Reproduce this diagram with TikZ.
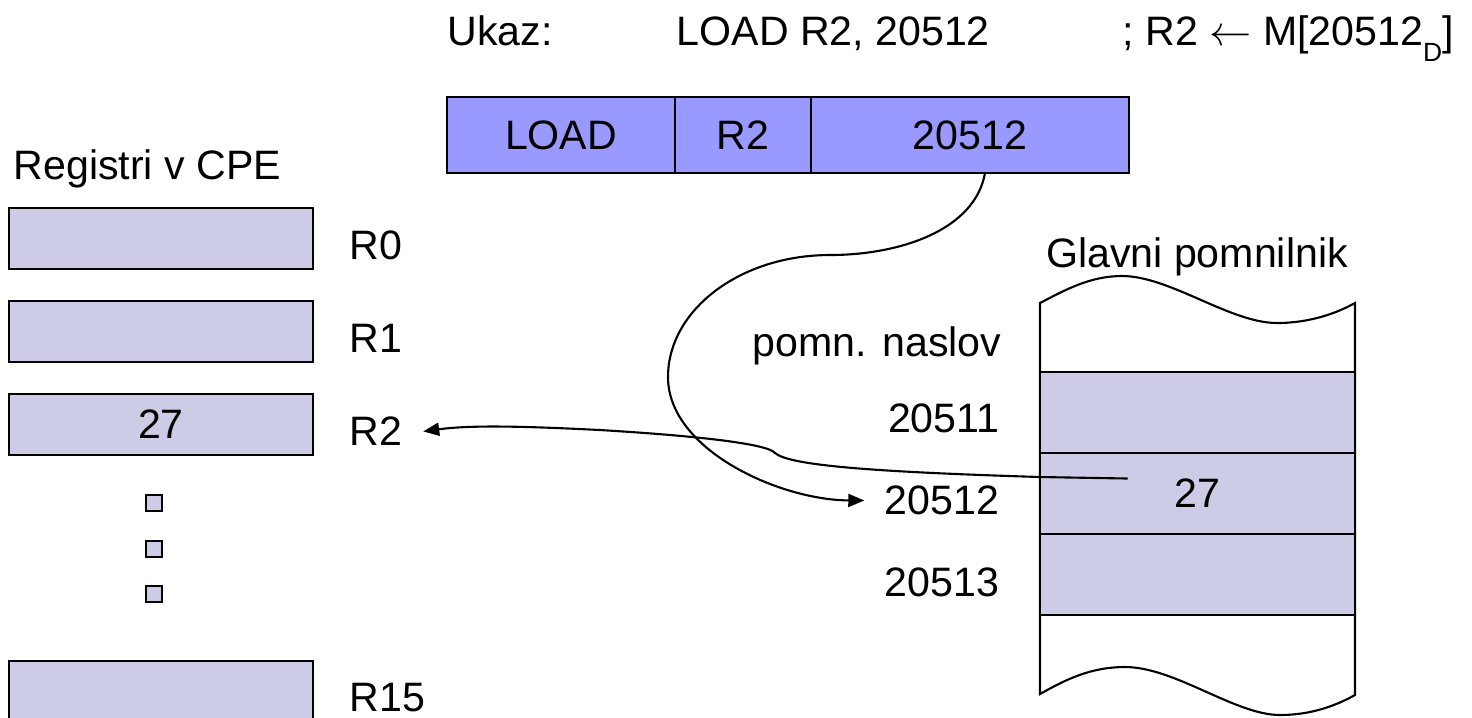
\documentclass[tikz,border=0pt]{standalone}
\usepackage{fontspec}
\setmainfont{Liberation Sans}
\usetikzlibrary{positioning, arrows.meta}

\definecolor{instrfill}{RGB}{153,153,255}
\definecolor{regfill}{RGB}{204,204,230}

\begin{document}
\begin{tikzpicture}[
  x=0.1mm, y=-0.1mm,
  font=\fontsize{11.7}{14}\selectfont,
  node distance=2.95mm and 3.5mm,
  field/.style={draw, fill=instrfill, line width=0.7pt, minimum height=7.6mm, inner sep=0pt, outer sep=0pt},
  reg/.style={draw, fill=regfill, line width=0.7pt, minimum width=30.4mm, minimum height=6.1mm, inner sep=0pt},
  cell/.style={draw, fill=regfill, line width=0.6pt, minimum width=31.5mm, minimum height=8.1mm, inner sep=0pt, outer sep=0pt},
  regdot/.style={draw, fill=regfill, line width=0.6pt, minimum size=1.6mm, inner sep=0pt},
  lbl/.style={inner sep=0pt},
  link/.style={line width=0.6pt, -{Triangle[length=1.6mm, width=1.3mm]}}
]
\useasboundingbox (0,0) rectangle (1472,717);

% --- Ukaz ---
\node[lbl, anchor=base west] (ukaz) at (447,45) {Ukaz:};
\node[lbl, anchor=base west] (instr) at (676,45) {LOAD R2, 20512};
\node[lbl, anchor=base west] (comment) at (1122,45)
  {; R2 $\leftarrow$ M[20512\raisebox{-1.6mm}{\fontsize{7.5}{8}\selectfont D}]};

% --- Polja ukaza ---
\node[field, minimum width=22.8mm] (fOp) at (561,135) {LOAD};
\node[field, minimum width=13.6mm, right=0pt of fOp] (fReg) {R2};
\node[field, minimum width=31.8mm, right=0pt of fReg] (fAddr) {20512};

% --- Registri ---
\node[lbl, anchor=base west] (regs) at (13,179) {Registri v CPE};
\node[reg] (r0) at (161,238.5) {};
\node[reg, below=of r0] (r1) {};
\node[reg, below=of r1] (r2) {27};
\node[reg] (r15) at (161,691.5) {};

\node[lbl, right=of r0, yshift=-0.7mm] (lR0) {R0};
\node[lbl, right=of r1, yshift=-0.7mm] (lR1) {R1};
\node[lbl, right=of r2, yshift=-0.7mm] (lR2) {R2};
\node[lbl, right=of r15, yshift=-0.6mm] (lR15) {R15};

\foreach \y [count=\i] in {503,549,594}
  \node[regdot] (dot\i) at (154,\y) {};

% --- Glavni pomnilnik ---
\node[lbl] (glavni) at (1197,257) {Glavni pomnilnik};
\draw[line width=0.6pt] (1040,303) -- (1040,694)
  .. controls (1065,680) and (1090,667) .. (1125,667)
  .. controls (1175,667) and (1235,715) .. (1280,715)
  .. controls (1312,715) and (1337,705) .. (1355,695) -- (1355,303)
  .. controls (1337,313) and (1310,323) .. (1277,323)
  .. controls (1230,323) and (1170,276) .. (1122,276)
  .. controls (1090,276) and (1065,290) .. cycle;

\node[cell] (m1) at (1197.5,412.5) {};
\node[cell, below=0pt of m1] (m2) {27};
\node[cell, below=0pt of m2] (m3) {};

\node[lbl, anchor=east] (naslov) at (1002,346) {pomn. naslov};
\node[lbl, left=4mm of m1, yshift=-0.6mm] (a20511) {20511};
\node[lbl, left=4mm of m2, yshift=-0.7mm] (a20512) {20512};
\node[lbl, left=4mm of m3, yshift=-0.8mm] (a20513) {20513};

% --- Povezave ---
\coordinate (mval) at ([xshift=-7mm, yshift=1.5mm]m2.center);
\draw[link] ([xshift=1.5mm]fAddr.south)
  .. controls (975,230) and (900,255) .. (830,255)
  .. controls (740,255) and (668,310) .. (668,377)
  .. controls (668,450) and (780,500) .. ([xshift=-2mm]a20512.west);
\draw[link] (mval) -- (1040,477)
  .. controls (880,472) and (790,466) .. (775,453)
  .. controls (768,444) and (700,436) .. (600,430)
  .. controls (520,426) and (470,425) .. ([xshift=2mm]lR2.east);

\end{tikzpicture}
\end{document}
